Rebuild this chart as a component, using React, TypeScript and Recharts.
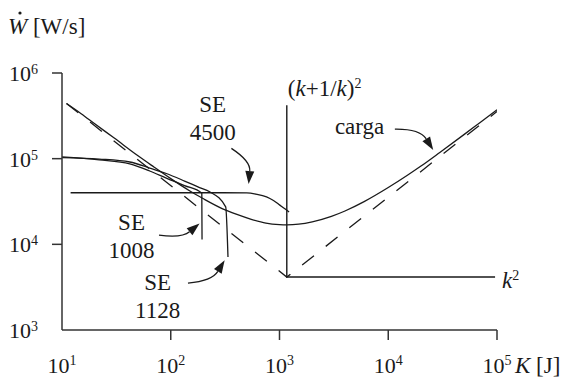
import React from 'react';
import { LineChart, Line, XAxis, YAxis, ReferenceLine, ReferenceDot } from 'recharts';

const FONT = '"Liberation Serif", "Times New Roman", serif';
const INK = '#1a1a1a';
const AXIS = '#333';

const xTicks = [10, 100, 1000, 10000, 100000];
const yTicks = [1000, 10000, 100000, 1000000];

// curva de carga, K [J] vs W [W/s]
const cargaK = [11, 15, 20, 30, 50, 70, 100, 150, 200, 300, 400, 550, 750, 1000, 1170, 1500, 2000, 3000, 4000, 6000, 10000, 15000, 20000, 30000, 50000, 70000, 100000];
const cargaW = [440000, 335000, 255000, 175000, 108000, 80000, 58500, 42000, 34000, 26000, 22500, 19600, 17700, 17000, 16900, 17200, 18300, 21200, 24500, 31500, 46000, 64000, 82000, 119000, 192000, 265000, 372000];

// asintotas (discontinua)
const asymK = [11, 1167, 100000];
const asymW = [440000, 4150, 355000];

// (k+1/k)^2 vertical y k^2 horizontal
const frameK = [1167, 1167, 96000];
const frameW = [420000, 4150, 4150];

const se4500K = [12, 100, 300, 500, 605, 760, 880, 1007, 1120, 1225];
const se4500W = [40000, 40000, 40000, 39800, 38600, 35900, 32500, 28700, 26000, 23800];

const se1008K = [10, 22, 42, 64, 91, 134, 193, 194];
const se1008W = [104800, 96600, 86700, 71800, 59400, 48500, 39600, 11400];

const se1128K = [10, 22, 42, 64, 91, 134, 184, 228, 320, 336];
const se1128W = [103000, 99000, 91400, 77800, 67100, 54800, 46000, 41100, 27400, 7100];

// flechas: [cola, punta]
const arrowSE4500 = [{ x: 361, y: 132000 }, { x: 520, y: 50500 }];
const arrowSE1008 = [{ x: 78, y: 12800 }, { x: 184, y: 17500 }];
const arrowSE1128 = [{ x: 144, y: 3530 }, { x: 313, y: 6520 }];
const arrowCarga = [{ x: 11500, y: 221000 }, { x: 25900, y: 126500 }];

const pts = (ks: number[], ws: number[]) => ks.map((k, i) => ({ k, w: ws[i] }));

const XTick = (props: any) => {
  const { x, y, payload } = props;
  const exp = Math.round(Math.log10(payload.value));
  return (
    <g>
      {exp > 1 && <line x1={x} x2={x} y1={y - 10} y2={y} stroke={AXIS} strokeWidth={1.5} />}
      <text x={x} y={y + 33} textAnchor="middle" fontFamily={FONT} fontSize={22} fill={INK}>
        10<tspan dy={-8} fontSize={14}>{exp}</tspan>
      </text>
    </g>
  );
};

const YTick = (props: any) => {
  const { x, y, payload } = props;
  const exp = Math.round(Math.log10(payload.value));
  return (
    <g>
      {exp > 3 && <line x1={x} x2={x + 10} y1={y} y2={y} stroke={AXIS} strokeWidth={1.5} />}
      <text x={x - 14} y={y + 8} textAnchor="end" fontFamily={FONT} fontSize={22} fill={INK}>
        10<tspan dy={-7} fontSize={14}>{exp}</tspan>
      </text>
    </g>
  );
};

const CurvedArrow = (props: any) => {
  const { x1, y1, x2, y2, bend } = props;
  const dx = x2 - x1;
  const dy = y2 - y1;
  const len = Math.hypot(dx, dy);
  const nx = -dy / len;
  const ny = dx / len;
  const cx = (x1 + x2) / 2 + nx * bend * len;
  const cy = (y1 + y2) / 2 + ny * bend * len;
  const tl = Math.hypot(x2 - cx, y2 - cy);
  const ux = (x2 - cx) / tl;
  const uy = (y2 - cy) / tl;
  const head = 13;
  const half = 4.5;
  const bx = x2 - ux * head;
  const by = y2 - uy * head;
  return (
    <g>
      <path d={`M${x1},${y1} Q${cx},${cy} ${bx},${by}`} fill="none" stroke={INK} strokeWidth={1.3} />
      <polygon points={`${x2},${y2} ${bx - uy * half},${by + ux * half} ${bx + uy * half},${by - ux * half}`} fill={INK} />
    </g>
  );
};

const stacked = (lines: string[]) => (p: any) => (
  <text x={p.cx} y={p.cy} textAnchor="middle" fontFamily={FONT} fontSize={23} fill={INK}>
    {lines.map((l, i) => (
      <tspan key={i} x={p.cx} dy={i === 0 ? 0 : 28}>{l}</tspan>
    ))}
  </text>
);

const YTitle = (p: any) => {
  const vb = p.viewBox;
  const x = vb.x + 8;
  const y = vb.y - 39;
  return (
    <g>
      <circle cx={x + 12} cy={y - 21} r={1.6} fill={INK} />
      <text x={x} y={y} fontFamily={FONT} fontSize={23} fill={INK}>
        <tspan fontStyle="italic">W</tspan> [W/s]
      </text>
    </g>
  );
};

const XTitle = (p: any) => {
  const vb = p.viewBox;
  return (
    <text x={vb.x + vb.width + 18} y={vb.y + 43} fontFamily={FONT} fontSize={23} fill={INK}>
      <tspan fontStyle="italic">K</tspan> [J]
    </text>
  );
};

export default function App() {
  return (
    <div style={{ position: 'absolute', left: 0, top: 0, background: '#fff' }}>
      <LineChart width={569} height={377} margin={{ top: 73, right: 72, bottom: 0, left: 0 }}>
        <XAxis
          dataKey="k"
          type="number"
          scale="log"
          domain={[10, 100000]}
          ticks={xTicks}
          allowDataOverflow
          height={47}
          tickSize={10}
          tickMargin={0}
          tickLine={false}
          tick={XTick}
          axisLine={{ stroke: AXIS, strokeWidth: 1.5 }}
          label={XTitle}
        />
        <YAxis
          dataKey="w"
          type="number"
          scale="log"
          domain={[1000, 1000000]}
          ticks={yTicks}
          allowDataOverflow
          width={62}
          tickSize={10}
          tickMargin={0}
          tickLine={false}
          tick={YTick}
          axisLine={{ stroke: AXIS, strokeWidth: 1.5 }}
          label={YTitle}
        />
        <Line data={pts(asymK, asymW)} dataKey="w" type="linear" stroke={INK} strokeWidth={1.3} strokeDasharray="15 15" dot={false} activeDot={false} isAnimationActive={false} />
        <Line data={pts(frameK, frameW)} dataKey="w" type="linear" stroke={INK} strokeWidth={1.4} dot={false} activeDot={false} isAnimationActive={false} />
        <Line data={pts(cargaK, cargaW)} dataKey="w" type="monotone" stroke={INK} strokeWidth={1.3} dot={false} activeDot={false} isAnimationActive={false} />
        <Line data={pts(se4500K, se4500W)} dataKey="w" type="monotone" stroke={INK} strokeWidth={1.3} dot={false} activeDot={false} isAnimationActive={false} />
        <Line data={pts(se1008K, se1008W)} dataKey="w" type="monotone" stroke={INK} strokeWidth={1.3} dot={false} activeDot={false} isAnimationActive={false} />
        <Line data={pts(se1128K, se1128W)} dataKey="w" type="monotone" stroke={INK} strokeWidth={1.3} dot={false} activeDot={false} isAnimationActive={false} />

        <ReferenceLine segment={arrowSE4500} shape={(p: any) => <CurvedArrow {...p} bend={-0.3} />} />
        <ReferenceLine segment={arrowSE1008} shape={(p: any) => <CurvedArrow {...p} bend={0.22} />} />
        <ReferenceLine segment={arrowSE1128} shape={(p: any) => <CurvedArrow {...p} bend={0.25} />} />
        <ReferenceLine segment={arrowCarga} shape={(p: any) => <CurvedArrow {...p} bend={-0.28} />} />

        <ReferenceDot x={243} y={352000} r={0} shape={stacked(['SE', '4500'])} />
        <ReferenceDot x={43.6} y={14600} r={0} shape={stacked(['SE', '1008'])} />
        <ReferenceDot x={75.7} y={2900} r={0} shape={stacked(['SE', '1128'])} />
        <ReferenceDot
          x={3230}
          y={194500}
          r={0}
          shape={(p: any) => (
            <text x={p.cx} y={p.cy} fontFamily={FONT} fontSize={23} fill={INK}>carga</text>
          )}
        />
        <ReferenceDot
          x={1167}
          y={420000}
          r={0}
          shape={(p: any) => (
            <text x={p.cx + 1} y={p.cy - 9} fontFamily={FONT} fontSize={23} fill={INK}>
              (<tspan fontStyle="italic">k</tspan>+1/<tspan fontStyle="italic">k</tspan>)<tspan dy={-8} fontSize={14}>2</tspan>
            </text>
          )}
        />
        <ReferenceDot
          x={96000}
          y={4150}
          r={0}
          shape={(p: any) => (
            <text x={p.cx + 7} y={p.cy + 11} fontFamily={FONT} fontSize={23} fill={INK}>
              <tspan fontStyle="italic">k</tspan><tspan dy={-8} fontSize={14}>2</tspan>
            </text>
          )}
        />
      </LineChart>
    </div>
  );
}
